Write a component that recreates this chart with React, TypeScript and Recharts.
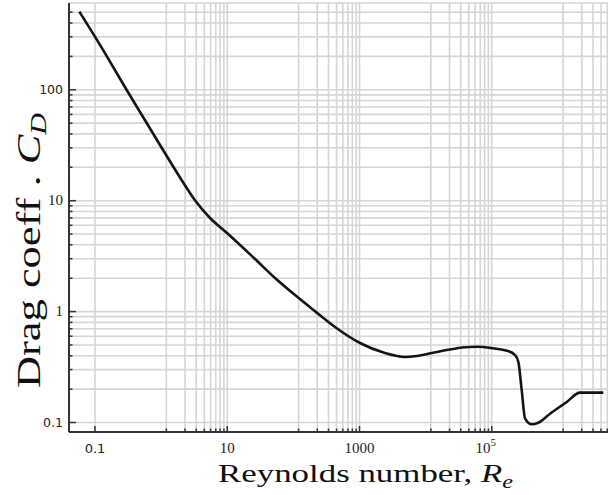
import React from 'react'
import { ComposedChart, Line, XAxis, YAxis, CartesianGrid } from 'recharts'

// Reynolds number samples along the drag curve
const reynolds = [
    0.058, 0.119, 0.3015, 0.962, 1.93, 3.25, 5.49, 9.92, 26.3, 52.8, 106, 212, 426, 1018, 2432, 4880, 7334,
    12940, 23390, 35530, 59900, 104500, 170300, 225000, 252400, 284100, 318700, 402300, 506300, 761000,
    1362000, 2164000, 4870000
]

// drag coefficient at each of those Reynolds numbers
const dragCoeff = [
    506, 254, 99.6, 31.8, 16.2, 10.1, 6.98, 5.11, 2.98, 2.01, 1.41, 1.01, 0.727, 0.521, 0.423, 0.39, 0.398,
    0.426, 0.455, 0.474, 0.482, 0.467, 0.444, 0.406, 0.353, 0.196, 0.109, 0.0963, 0.0996, 0.12,
    0.153, 0.186, 0.186
]

// x axis: labelled ticks every two decades, linear minor ticks in between
const xMajor = [0.1, 10, 1000, 100000]
const xTickLabels = ['0.1', '10', '1000', '10^5']
const xMinor = [
    1.2, 2.3, 3.4, 4.5, 5.6, 6.7, 7.8, 8.9,
    120, 230, 340, 450, 560, 670, 780, 890,
    12000, 23000, 34000, 45000, 56000, 67000, 78000, 89000,
    1200000, 2300000, 3400000, 4500000, 5600000
]

// y axis: one decade per labelled tick
const yMajor = [0.1, 1, 10, 100]
const yTickLabels = ['0.1', '1', '10', '100']
const yMinor = [
    0.2, 0.3, 0.4, 0.5, 0.6, 0.7, 0.8, 0.9,
    2, 3, 4, 5, 6, 7, 8, 9,
    20, 30, 40, 50, 60, 70, 80, 90,
    200, 300, 400, 500
]

const xDomain = [0.04045, 6590000]
const yDomain = [0.0821, 606]

const xTicks = [...xMajor, ...xMinor].sort((a, b) => a - b)
const yTicks = [...yMajor, ...yMinor].sort((a, b) => a - b)

const data = reynolds.map((re, i) => ({ re, cd: dragCoeff[i] }))

const FRAME = '#333'
const SERIF = '"Liberation Serif", "Times New Roman", serif'
const SANS = '"DejaVu Sans", Verdana, sans-serif'
const sansLabels = ['0.1', '100']

const BottomTick = ({ x, y, payload }: any) => {
    const idx = xMajor.indexOf(payload.value)
    const label = idx >= 0 ? xTickLabels[idx] : null
    return (
        <g>
            <line x1={x} y1={y} x2={x} y2={y - (idx >= 0 ? 6 : 3.5)} stroke={FRAME} strokeWidth={1.5} />
            {label && label.includes('^') ? (
                <text x={x - 6} y={y + 21} textAnchor="middle" fontFamily={SERIF} fontSize={15} fill="#222">
                    {label.split('^')[0]}
                    <tspan fontSize={11} dy={-7}>{label.split('^')[1]}</tspan>
                </text>
            ) : label ? (
                <text
                    x={x}
                    y={y + 21}
                    textAnchor="middle"
                    fontFamily={sansLabels.includes(label) ? SANS : SERIF}
                    fontSize={sansLabels.includes(label) ? 13 : 15}
                    fill="#222"
                >
                    {label}
                </text>
            ) : null}
        </g>
    )
}

const TopTick = ({ x, y, payload }: any) => {
    const major = xMajor.includes(payload.value)
    return <line x1={x} y1={y} x2={x} y2={y + (major ? 7 : 3.5)} stroke={FRAME} strokeWidth={1.5} />
}

const LeftTick = ({ x, y, payload }: any) => {
    const idx = yMajor.indexOf(payload.value)
    const label = idx >= 0 ? yTickLabels[idx] : null
    return (
        <g>
            <line x1={x} y1={y} x2={x + (idx >= 0 ? 7 : 3.5)} y2={y} stroke={FRAME} strokeWidth={1.5} />
            {label && (
                <text
                    x={x - 6}
                    y={y + 4.5}
                    textAnchor="end"
                    fontFamily={sansLabels.includes(label) ? SANS : SERIF}
                    fontSize={sansLabels.includes(label) ? 12.5 : 15}
                    fill="#222"
                >
                    {label}
                </text>
            )}
        </g>
    )
}

const XTitle = ({ viewBox }: any) => (
    <text
        x={viewBox.x + 149}
        y={viewBox.y + 50}
        fontFamily={SERIF}
        fontSize={26}
        fill="#111"
        textLength={295}
        lengthAdjust="spacingAndGlyphs"
    >
        Reynolds number, <tspan fontStyle="italic">R</tspan>
        <tspan fontStyle="italic" fontSize={18} dy={6}>e</tspan>
    </text>
)

const YTitle = ({ viewBox }: any) => (
    <text
        transform={`translate(${viewBox.x + 40}, ${viewBox.y + 385}) rotate(-90)`}
        fontFamily={SERIF}
        fontSize={34}
        fill="#111"
        textLength={275}
        lengthAdjust="spacingAndGlyphs"
    >
        Drag coeff . <tspan fontStyle="italic">C</tspan>
        <tspan fontStyle="italic" fontSize={23} dy={6}>D</tspan>
    </text>
)

export default function App() {
    return (
        <div style={{ position: 'absolute', left: 0, top: 0, width: 608, height: 495, overflow: 'hidden', background: '#fff' }}>
            <ComposedChart width={620} height={495} data={data} margin={{ top: 3, right: 8, bottom: 0, left: 0 }}>
                <CartesianGrid xAxisId="b" yAxisId="l" stroke="#d5d5d5" strokeWidth={1.6} />
                <XAxis
                    xAxisId="b"
                    dataKey="re"
                    type="number"
                    scale="log"
                    domain={xDomain}
                    allowDataOverflow
                    ticks={xTicks}
                    interval={0}
                    height={63}
                    tickSize={0}
                    tickMargin={0}
                    tickLine={false}
                    axisLine={{ stroke: FRAME, strokeWidth: 2 }}
                    tick={<BottomTick />}
                    label={{ content: (p: any) => <XTitle {...p} /> }}
                />
                <XAxis
                    xAxisId="t"
                    orientation="top"
                    dataKey="re"
                    type="number"
                    scale="log"
                    domain={xDomain}
                    allowDataOverflow
                    ticks={xTicks}
                    interval={0}
                    height={0}
                    tickSize={0}
                    tickMargin={0}
                    tickLine={false}
                    axisLine={{ stroke: FRAME, strokeWidth: 2 }}
                    tick={<TopTick />}
                />
                <YAxis
                    yAxisId="l"
                    type="number"
                    scale="log"
                    domain={yDomain}
                    allowDataOverflow
                    ticks={yTicks}
                    interval={0}
                    width={69}
                    tickSize={0}
                    tickMargin={0}
                    tickLine={false}
                    axisLine={{ stroke: FRAME, strokeWidth: 2 }}
                    tick={<LeftTick />}
                    label={{ content: (p: any) => <YTitle {...p} /> }}
                />
                <Line
                    xAxisId="b"
                    yAxisId="l"
                    dataKey="cd"
                    type="monotone"
                    stroke="#151515"
                    strokeWidth={2.6}
                    dot={false}
                    isAnimationActive={false}
                />
            </ComposedChart>
        </div>
    )
}
